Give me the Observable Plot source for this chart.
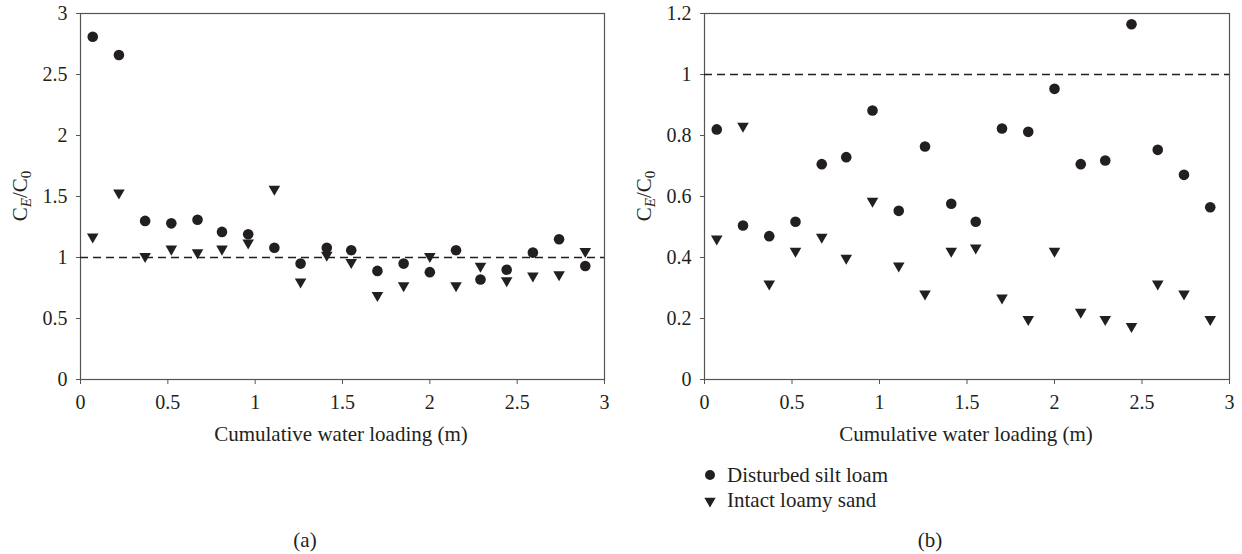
<!DOCTYPE html>
<html><head><meta charset="utf-8">
<script src="https://cdn.jsdelivr.net/npm/d3@7"></script>
<script src="https://cdn.jsdelivr.net/npm/@observablehq/plot@0.6"></script>
<style>
body{margin:0;background:#fff;}
#wrap{position:relative;width:1242px;height:554px;overflow:hidden;background:#fff}
.panel{position:absolute;top:0}
#overlay{position:absolute;left:0;top:0;pointer-events:none}
#overlay text{font-family:"Liberation Serif","Times New Roman",Tinos,"DejaVu Serif",serif;fill:#231f20}
</style></head><body><div id="wrap"></div>
<script>
// Cumulative water loading (m)
const loading = [0.07,0.22,0.37,0.52,0.67,0.81,0.96,1.11,1.26,1.41,1.55,1.70,1.85,2.00,2.15,2.29,2.44,2.59,2.74,2.89];
// Panel (a)
const siltA = [2.81,2.66,1.30,1.28,1.31,1.21,1.19,1.08,0.95,1.08,1.06,0.89,0.95,0.88,1.06,0.82,0.90,1.04,1.15,0.93];
const sandA = [1.17,1.53,1.01,1.07,1.04,1.07,1.12,1.56,0.80,1.02,0.96,0.69,0.77,1.01,0.77,0.93,0.81,0.85,0.86,1.05];
// Panel (b)
const siltB = [0.82,0.505,0.47,0.517,0.706,0.729,0.882,0.553,0.764,0.576,0.517,0.823,0.812,0.953,0.706,0.718,1.165,0.753,0.671,0.565];
const sandB = [0.461,0.831,0.314,0.421,0.467,0.398,0.585,0.373,0.281,0.421,0.432,0.268,0.197,0.421,0.221,0.197,0.174,0.314,0.281,0.197];
const seriesNames = ["Disturbed silt loam","Intact loamy sand"];
const xTicks = [0,0.5,1,1.5,2,2.5,3];
const yTicksA = [0,0.5,1,1.5,2,2.5,3];
const yTicksB = [0,0.2,0.4,0.6,0.8,1,1.2];
const refLine = [1];

const ink = "#231f20";
const serif = "'Liberation Serif','Times New Roman',Tinos,'DejaVu Serif',serif";
function panel(silt, sand, yMax, yTicks, w, ml, mr) {
  const rows = loading.map((x, i) => ({x, silt: silt[i], sand: sand[i]}));
  return Plot.plot({
    width: w, height: 420,
    marginLeft: ml, marginRight: mr, marginTop: 13, marginBottom: 41,
    style: {fontFamily: serif, fontSize: "20px", color: ink, background: "transparent", overflow: "visible"},
    x: {domain: [0, 3]},
    y: {domain: [0, yMax]},
    marks: [
      Plot.frame({stroke: "#555", strokeWidth: 1.2}),
      Plot.axisX({ticks: xTicks, tickSize: 5, tickPadding: 10, label: null, tickFormat: d => String(d), stroke: "#555", fontFamily: serif}),
      Plot.axisY({ticks: yTicks, tickSize: 4, tickPadding: 9, label: null, tickFormat: d => String(d), stroke: "#555", fontFamily: serif}),
      Plot.ruleY(refLine, {stroke: ink, strokeWidth: 1.3, strokeDasharray: "8,5"}),
      Plot.dot(rows, {x: "x", y: "silt", r: 5.3, symbol: "circle", fill: ink, stroke: "none"}),
      Plot.dot(rows, {x: "x", y: "sand", r: 4.3, symbol: "triangle", rotate: 180, fill: ink, stroke: "none"})
    ]
  });
}

const wrap = document.getElementById("wrap");
const pa = panel(siltA, sandA, 3, yTicksA, 620, 80, 16);
pa.classList.add("panel"); pa.style.left = "0px";
wrap.appendChild(pa);
const pb = panel(siltB, sandB, 1.2, yTicksB, 622, 84, 13);
pb.classList.add("panel"); pb.style.left = "620px";
wrap.appendChild(pb);

// Text overlay: axis titles, legend, panel captions
const svg = d3.select(wrap).append("svg").attr("id", "overlay").attr("width", 1242).attr("height", 554);
function xLabel(cx) {
  svg.append("text").attr("x", cx).attr("y", 441).attr("text-anchor", "middle").style("font-size", "21px")
    .text("Cumulative water loading (m)");
}
function yLabel(bx) {
  const t = svg.append("text").attr("transform", `translate(${bx},196) rotate(-90)`).attr("text-anchor", "middle").style("font-size", "21px");
  t.append("tspan").text("C");
  t.append("tspan").attr("font-style", "italic").attr("font-size", "15px").attr("dy", 4).text("E");
  t.append("tspan").attr("dy", -4).text("/C");
  t.append("tspan").attr("font-size", "15px").attr("dy", 4).text("0");
}
xLabel(341); xLabel(966);
yLabel(27); yLabel(651);
svg.append("text").attr("x", 305).attr("y", 547).attr("text-anchor", "middle").style("font-size", "21px").text("(a)");
svg.append("text").attr("x", 930).attr("y", 547).attr("text-anchor", "middle").style("font-size", "21px").text("(b)");
// legend
svg.append("circle").attr("cx", 710).attr("cy", 475).attr("r", 5).attr("fill", ink);
svg.append("path").attr("d", d3.symbol(d3.symbolTriangle, 55)()).attr("transform", "translate(710,501) rotate(180)").attr("fill", ink);
svg.append("text").attr("x", 727).attr("y", 482).style("font-size", "21px").text(seriesNames[0]);
svg.append("text").attr("x", 727).attr("y", 507).style("font-size", "21px").text(seriesNames[1]);
</script></body></html>
